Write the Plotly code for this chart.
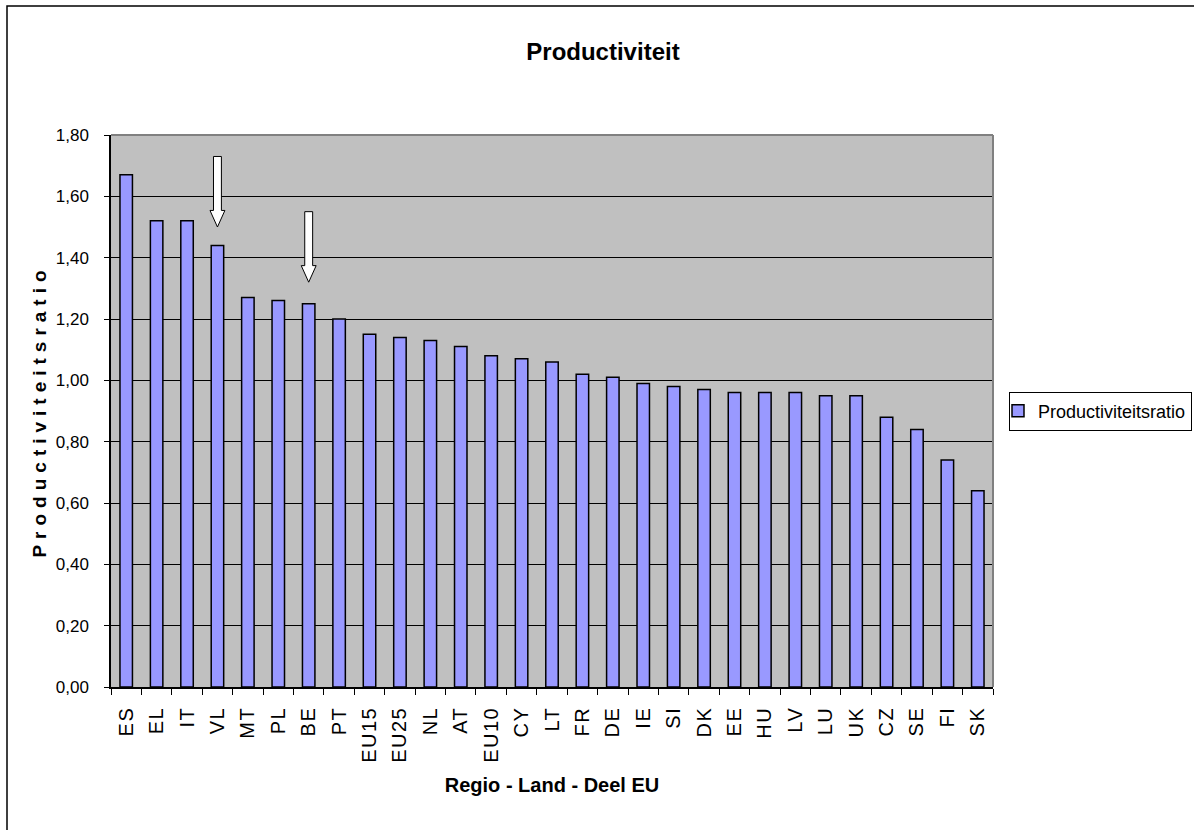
import plotly.graph_objects as go

# Productivity ratio per region / country / EU aggregate
regions = ["ES", "EL", "IT", "VL", "MT", "PL", "BE", "PT", "EU15", "EU25",
           "NL", "AT", "EU10", "CY", "LT", "FR", "DE", "IE", "SI", "DK",
           "EE", "HU", "LV", "LU", "UK", "CZ", "SE", "FI", "SK"]
ratios = [1.67, 1.52, 1.52, 1.44, 1.27, 1.26, 1.25, 1.20, 1.15, 1.14,
          1.13, 1.11, 1.08, 1.07, 1.06, 1.02, 1.01, 0.99, 0.98, 0.97,
          0.96, 0.96, 0.96, 0.95, 0.95, 0.88, 0.84, 0.74, 0.64]

# Highlighted entries: (region, arrow top, arrow tip) in ratio units
arrow_marks = [("VL", 1.73, 1.50), ("BE", 1.55, 1.32)]

y_ticks = [0.0, 0.2, 0.4, 0.6, 0.8, 1.0, 1.2, 1.4, 1.6, 1.8]

FONT = "Liberation Sans, Arial, sans-serif"

W, H = 1194, 830
L, R, T, B = 111, 201, 135, 143
plot_w = W - L - R
plot_h = H - T - B

fig = go.Figure()
fig.add_trace(go.Bar(
    x=regions,
    y=ratios,
    name="Productiviteitsratio",
    marker=dict(color="#9999FF", line=dict(color="#000000", width=1.5)),
))

# block arrows pointing at the highlighted bars
n = len(regions)
shaft_half = 0.13 / n
head_half = 0.245 / n
head_len = 0.054
shapes = []
for name, top, tip in arrow_marks:
    cx = (regions.index(name) + 0.5) / n
    neck = tip + head_len
    path = (f"M {cx - shaft_half},{top} L {cx + shaft_half},{top} "
            f"L {cx + shaft_half},{neck} L {cx + head_half},{neck} "
            f"L {cx},{tip} L {cx - head_half},{neck} "
            f"L {cx - shaft_half},{neck} Z")
    shapes.append(dict(type="path", xref="paper", yref="y", path=path,
                       fillcolor="#FFFFFF", line=dict(color="#000000", width=1)))

# plot-area frame (grey top and right edges)
shapes.append(dict(type="line", xref="paper", yref="paper", x0=0, x1=1, y0=1, y1=1,
                   line=dict(color="#808080", width=2)))
shapes.append(dict(type="line", xref="paper", yref="paper", x0=1, x1=1, y0=0, y1=1,
                   line=dict(color="#808080", width=2)))


def px_x(v):
    return (v - L) / plot_w


def px_y(v):
    return (H - B - v) / plot_h


# outer chart border (top and left edges fall inside the page)
shapes.append(dict(type="rect", xref="paper", yref="paper",
                   x0=px_x(7), x1=px_x(1210), y0=px_y(6), y1=px_y(850),
                   line=dict(color="#000000", width=1.5), fillcolor="rgba(0,0,0,0)",
                   layer="below"))

fig.update_layout(
    width=W, height=H,
    margin=dict(l=L, r=R, t=T, b=B, autoexpand=False),
    paper_bgcolor="#FFFFFF",
    plot_bgcolor="#C0C0C0",
    separators=",.",
    bargap=0.59,
    shapes=shapes,
    title=dict(text="<b>Productiviteit</b>", x=0.505, xref="container", xanchor="center",
               y=1 - 52 / H, yref="container", yanchor="middle",
               font=dict(family=FONT, size=24, color="#000000")),
    showlegend=True,
    legend=dict(x=px_x(1009), xanchor="left", y=0.5, yanchor="middle",
                bordercolor="#000000", borderwidth=1, bgcolor="#FFFFFF",
                font=dict(family=FONT, size=18, color="#000000"),
                itemwidth=30, indentation=-12),
    xaxis=dict(
        type="category",
        tickangle=-90,
        tickfont=dict(family=FONT, size=20, color="#000000"),
        ticks="outside", ticklen=6, tickcolor="#000000", tickson="boundaries",
        ticklabelstandoff=10,
        showline=True, linecolor="#000000", linewidth=1.5,
        showgrid=False,
        title=dict(text="<b>Regio - Land - Deel EU</b>", standoff=22,
                   font=dict(family=FONT, size=20, color="#000000")),
    ),
    yaxis=dict(
        range=[0, 1.8],
        tickvals=y_ticks,
        tickformat=".2f",
        tickfont=dict(family=FONT, size=17, color="#000000"),
        ticks="outside", ticklen=5, tickcolor="#000000",
        ticklabelstandoff=12,
        showline=True, linecolor="#000000", linewidth=1.5,
        showgrid=True, gridcolor="#000000", gridwidth=1,
        zeroline=False,
        title=dict(text="<b>Productiviteitsratio</b>", standoff=4,
                   font=dict(family=FONT, size=19, color="#000000")),
    ),
)

# spread the letters of the vertical axis title and the category labels
spacing_js = """
var gd = document.getElementById('{plot_id}');
var yt = gd.querySelector('.ytitle');
if (yt) { yt.style.letterSpacing = '6px'; }
gd.querySelectorAll('.xtick text').forEach(function (t) {
    t.style.letterSpacing = '1.5px';
});
"""

fig.write_html("out.html", post_script=spacing_js)
